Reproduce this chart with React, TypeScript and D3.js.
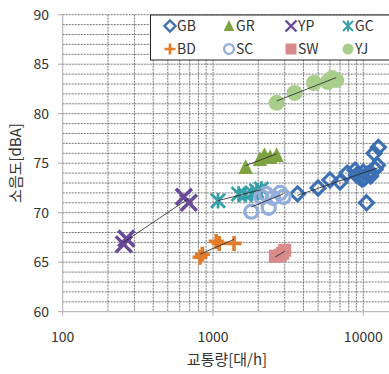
import React from "react";
import * as d3 from "d3";

const GB = [[3650,71.9],[5000,72.5],[6000,73.3],[7000,73.1],[7800,74.0],[8800,74.3],[9000,73.8],[9400,73.6],[9800,73.4],[10200,73.5],[10600,73.9],[10000,74.1],[11000,74.0],[11200,73.7],[10500,71.0],[12000,74.4],[12400,74.8],[11800,76.0],[12600,76.6]];
const GR = [[1650,74.6],[2050,75.4],[2200,75.8],[2400,75.6],[2650,75.8]];
const YP = [[265,67.4],[255,66.8],[640,71.6],[690,71.0]];
const GC = [[1080,71.2],[1480,71.9],[1640,71.8],[1820,72.0],[1950,72.2],[2100,72.4]];
const BD = [[820,65.5],[850,65.8],[1050,67.1],[1100,66.9],[1380,66.9]];
const SC = [[1800,70.1],[2350,70.5],[2100,71.6],[2500,71.5],[2800,72.0],[2950,71.6],[2250,71.9]];
const SW = [[2600,65.6],[2800,65.7],[3000,66.2],[2900,65.9]];
const YJ = [[2650,81.1],[3500,82.1],[4700,83.1],[5800,83.2],[6600,83.4],[6200,83.6]];

const seriesNames = ["GB", "GR", "YP", "GC", "BD", "SC", "SW", "YJ"];
const seriesData = [GB, GR, YP, GC, BD, SC, SW, YJ];
const seriesColors = ["#3d6fb3", "#7da441", "#6a4a98", "#36a0aa", "#e37c2b", "#93aedb", "#d98b8c", "#a9cd8b"];
const yTicks = [60, 65, 70, 75, 80, 85, 90];
const xTicks = [100, 1000, 10000];

const W = 389, H = 374;
const x = d3.scaleLog().domain([100, 10000]).range([62.7, 363.3]);
const y = d3.scaleLinear().domain([60, 90]).range([311.7, 14.7]);
const font = "'Noto Sans CJK KR', 'Noto Sans', sans-serif";

function Marker({ name, color, s }: { name: string; color: string; s: number }) {
  const h = s / 2;
  if (name === "GB") return <path d={`M0,${-h}L${h},0L0,${h}L${-h},0Z`} fill="none" stroke={color} strokeWidth={s * 0.22} />;
  if (name === "GR") return <path d={`M0,${-h}L${h * 0.9},${h * 0.85}L${-h * 0.9},${h * 0.85}Z`} fill={color} />;
  if (name === "YP") return <path d={`M${-h},${-h}L${h},${h}M${h},${-h}L${-h},${h}`} stroke={color} strokeWidth={s * 0.22} />;
  if (name === "GC") {
    return <path d={`M${-h},${-h}L${h},${h}M${h},${-h}L${-h},${h}M0,${-h * 1.1}L0,${h * 1.1}`} stroke={color} strokeWidth={s * 0.2} />;
  }
  if (name === "BD") return <path d={`M${-h},0L${h},0M0,${-h}L0,${h}`} stroke={color} strokeWidth={s * 0.24} />;
  if (name === "SC") return <circle r={h * 0.82} fill="none" stroke={color} strokeWidth={s * 0.2} />;
  if (name === "SW") return <rect x={-h} y={-h} width={s} height={s} fill={color} />;
  return <circle r={h} fill={color} />;
}

function trend(data: number[][]) {
  const lx = data.map(d => Math.log10(d[0]));
  const ys = data.map(d => d[1]);
  const mx = d3.mean(lx)!, my = d3.mean(ys)!;
  const b = d3.sum(lx.map((v, i) => (v - mx) * (ys[i] - my))) / d3.sum(lx.map(v => (v - mx) ** 2));
  const [x0, x1] = d3.extent(data, d => d[0]) as [number, number];
  const f = (v: number) => my + b * (Math.log10(v) - mx);
  return [[x0, f(x0)], [x1, f(x1)]];
}

const markerSize: Record<string, number> = { GB: 14, GR: 16, YP: 16, GC: 14, BD: 15, SC: 16, SW: 13, YJ: 16 };
const legendSize: Record<string, number> = { GB: 11, GR: 12, YP: 11, GC: 10, BD: 11, SC: 12, SW: 11, YJ: 11 };

export default function App() {
  const minorX: number[] = [];
  for (const dec of [100, 1000, 10000]) for (let k = 1; k <= 9; k++) minorX.push(dec * k);
  const gridY = d3.range(61, 91, 1);
  const line = d3.line<number[]>().x(d => x(d[0])).y(d => y(d[1]));

  return (
    <svg width={W} height={H} style={{ position: "absolute", left: 0, top: 0, background: "#fff" }} fontFamily={font}>
      <defs>
        <clipPath id="plot"><rect x={62.7} y={10} width={W - 62.7} height={305} /></clipPath>
      </defs>
      <g clipPath="url(#plot)">
        {gridY.map(v => (
          <line key={"gy" + v} x1={62.7} x2={W} y1={y(v)} y2={y(v)} stroke="#555" strokeWidth={0.8} strokeDasharray="2,1" />
        ))}
        {minorX.filter(v => v > 100).map(v => (
          <line key={"gx" + v} x1={x(v)} x2={x(v)} y1={y(90)} y2={y(60)} stroke="#555" strokeWidth={0.8} strokeDasharray="2,1" />
        ))}
      </g>
      <line x1={62.7} x2={62.7} y1={y(90)} y2={y(60)} stroke="#aaa" strokeWidth={1} />
      <line x1={62.7} x2={W} y1={y(60)} y2={y(60)} stroke="#aaa" strokeWidth={1} />
      {yTicks.map(v => (
        <g key={"yt" + v}>
          <line x1={58} x2={62.7} y1={y(v)} y2={y(v)} stroke="#aaa" />
          <text x={49} y={y(v)} dy="0.35em" textAnchor="end" fontSize={14} fill="#333">{v}</text>
        </g>
      ))}
      {xTicks.map(v => (
        <g key={"xt" + v}>
          <line x1={x(v)} x2={x(v)} y1={y(60)} y2={y(60) + 4} stroke="#aaa" />
          <text x={x(v)} y={337} dy="0.35em" textAnchor="middle" fontSize={14} fill="#333">{v}</text>
        </g>
      ))}
      <text x={227} y={360} dy="0.35em" textAnchor="middle" fontSize={15} fill="#333">교통량[대/h]</text>
      <text transform={`translate(16,163) rotate(-90)`} dy="0.35em" textAnchor="middle" fontSize={15} fill="#333">소음도[dBA]</text>

      <g clipPath="url(#plot)">
        {seriesNames.map((n, i) => (
          <g key={"s" + n}>
            {seriesData[i].map((d, j) => (
              <g key={j} transform={`translate(${x(d[0])},${y(d[1])})`}>
                <Marker name={n} color={seriesColors[i]} s={markerSize[n]} />
              </g>
            ))}
          </g>
        ))}
        {seriesData.map((data, i) => (
          <path key={"t" + i} d={line(trend(data))!} stroke="#222" strokeWidth={0.8} fill="none" />
        ))}
      </g>

      <rect x={150.5} y={15} width={260} height={45} fill="#fff" stroke="#222" strokeWidth={1} />
      {seriesNames.map((n, i) => {
        const lx = [170, 229, 291, 348][i % 4];
        const ly = i < 4 ? 26 : 49;
        return (
          <g key={"lg" + n}>
            <g transform={`translate(${lx},${ly})`}>
              <Marker name={n} color={seriesColors[i]} s={legendSize[n]} />
            </g>
            <text x={lx + 7} y={ly} dy="0.35em" fontSize={14} fill="#333">{n}</text>
          </g>
        );
      })}
    </svg>
  );
}
